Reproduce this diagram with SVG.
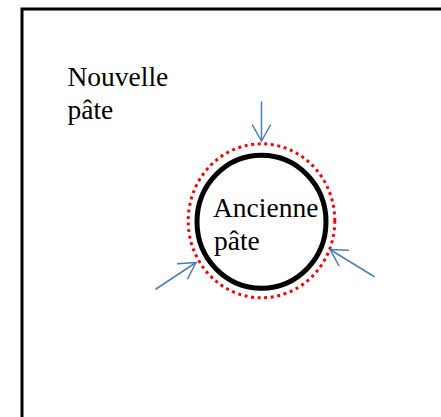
<svg xmlns="http://www.w3.org/2000/svg" width="441" height="417" viewBox="0 0 441 417">
  <style>
    .label { font-family: "Liberation Serif", "Times New Roman", serif; font-size: 27.5px; fill: #000; }
    .push { stroke: #4A7EBB; stroke-width: 1.5; fill: none; stroke-linecap: round; stroke-linejoin: round; }
  </style>
  <defs>
    <marker id="vhead" viewBox="0 0 20 20" refX="18" refY="10" markerWidth="20" markerHeight="20" markerUnits="userSpaceOnUse" orient="auto">
      <path d="M2,1 L18,10 L2,19" fill="none" stroke="#4A7EBB" stroke-width="1.5" stroke-linecap="round" stroke-linejoin="round"/>
    </marker>
  </defs>
  <rect width="441" height="417" fill="#fff"/>

  <!-- container: only its top and left edges fall inside the frame -->
  <g id="container">
    <path d="M22,445 L22,9 L460,9" fill="none" stroke="#000" stroke-width="3"/>
  </g>

  <g id="new-dough">
    <text class="label" x="67.5" y="86">Nouvelle</text>
    <text class="label" x="67.5" y="119">pâte</text>
  </g>

  <g id="old-dough">
    <ellipse cx="261.5" cy="220.8" rx="73.3" ry="77" fill="none" stroke="#FF0000" stroke-width="3" stroke-dasharray="3 3.6"/>
    <ellipse cx="261.5" cy="221.7" rx="64.5" ry="66.5" fill="#fff" stroke="#000" stroke-width="5"/>
    <text class="label" x="213" y="217">Ancienne</text>
    <text class="label" x="214" y="250">pâte</text>
  </g>

  <g id="connectors">
    <line class="push" x1="261.5" y1="102" x2="261.5" y2="141" marker-end="url(#vhead)"/>
    <line class="push" x1="156" y1="289" x2="196" y2="262.5" marker-end="url(#vhead)"/>
    <line class="push" x1="374" y1="276.5" x2="330" y2="249.5" marker-end="url(#vhead)"/>
  </g>
</svg>
